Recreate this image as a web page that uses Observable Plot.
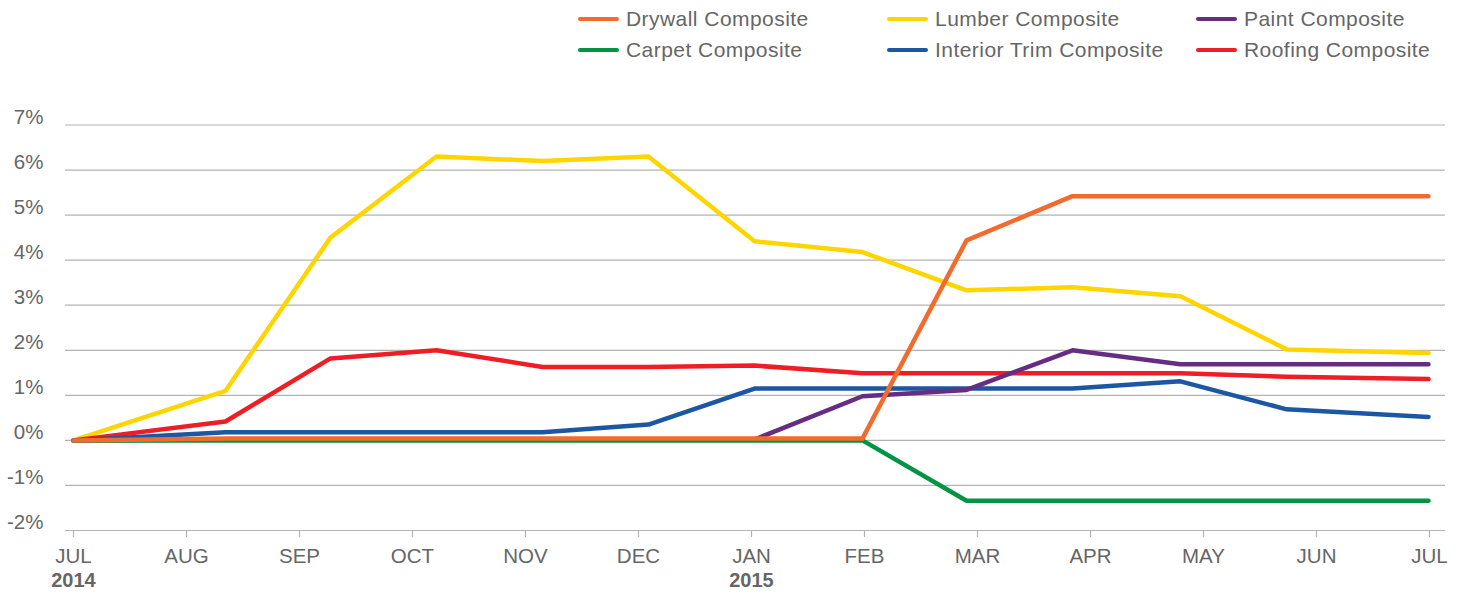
<!DOCTYPE html>
<html>
<head>
<meta charset="utf-8">
<script src="https://cdn.jsdelivr.net/npm/d3@7"></script>
<script src="https://cdn.jsdelivr.net/npm/@observablehq/plot@0.6"></script>
<style>
  html, body { margin: 0; padding: 0; background: #fff; }
  body { width: 1465px; height: 592px; overflow: hidden; font-family: "Liberation Sans", Arial, sans-serif; }
  #legend { position: relative; height: 70px; width: 1465px; }
  .item { position: absolute; display: flex; align-items: center; font-size: 21px; color: #666; white-space: nowrap; line-height: 24px; letter-spacing: 0.45px; }
  .sw { width: 41px; height: 4px; border-radius: 2px; margin-right: 7px; }
  #chart svg { display: block; overflow: visible; }
</style>
</head>
<body>
<div id="legend"></div>
<div id="chart"></div>
<script>
// Tick labels
const monthLabels = ["JUL","AUG","SEP","OCT","NOV","DEC","JAN","FEB","MAR","APR","MAY","JUN","JUL"];
const yearLabels = [{m: 0, label: "2014"}, {m: 6, label: "2015"}];
const yTicks = [-2, -1, 0, 1, 2, 3, 4, 5, 6, 7];

// Observation positions (in month units from JUL 2014)
const obs = [0, 1.345, 2.274, 3.212, 4.150, 5.088, 6.027, 6.982, 7.903, 8.841, 9.796, 10.735, 11.991];

// Series values (%)
const lumber   = [0, 1.1, 4.5, 6.3, 6.2, 6.3, 4.42, 4.18, 3.33, 3.4, 3.2, 2.02, 1.94];
const roofing  = [0, 0.42, 1.82, 2.0, 1.63, 1.63, 1.66, 1.49, 1.49, 1.49, 1.49, 1.41, 1.36];
const interior = [0, 0.18, 0.18, 0.18, 0.18, 0.35, 1.15, 1.15, 1.15, 1.15, 1.31, 0.69, 0.52];
const paint    = [0, 0.02, 0.02, 0.02, 0.02, 0.02, 0.02, 0.98, 1.12, 2.0, 1.69, 1.69, 1.69];
const carpet   = [0, 0, 0, 0, 0, 0, 0, 0, -1.34, -1.34, -1.34, -1.34, -1.34];
const drywall  = [0, 0.04, 0.04, 0.04, 0.04, 0.04, 0.04, 0.04, 4.44, 5.42, 5.42, 5.42, 5.42];

const seriesNames  = ["Lumber Composite", "Roofing Composite", "Interior Trim Composite", "Paint Composite", "Carpet Composite", "Drywall Composite"];
const seriesValues = [lumber, roofing, interior, paint, carpet, drywall];
const seriesColors = ["#FFD500", "#EE1D26", "#1B57A2", "#662D83", "#009444", "#F26B2E"];

// Legend order (as in the reference)
const legendOrder = ["Drywall Composite", "Lumber Composite", "Paint Composite", "Carpet Composite", "Interior Trim Composite", "Roofing Composite"];
const colorOf = Object.fromEntries(seriesNames.map((n, i) => [n, seriesColors[i]]));

const legend = document.getElementById("legend");
const colX = [578, 887, 1196], rowY = [19, 50];
legendOrder.forEach((name, i) => {
  const d = document.createElement("div");
  d.className = "item";
  d.style.left = colX[i % 3] + "px";
  d.style.top = (rowY[Math.floor(i / 3)] - 12) + "px";
  d.innerHTML = `<span class="sw" style="background:${colorOf[name]}"></span><span>${name}</span>`;
  legend.appendChild(d);
});

const data = [];
seriesNames.forEach((name, si) => {
  seriesValues[si].forEach((v, i) => data.push({series: name, m: obs[i], v}));
});

const font = "'Liberation Sans', Arial, sans-serif";
const chart = Plot.plot({
  width: 1465,
  height: 522,
  marginLeft: 65,
  marginRight: 20,
  marginTop: 54.5,
  marginBottom: 62,
  style: {fontFamily: font, fontSize: "20px", color: "#666", background: "#fff"},
  x: {type: "linear", domain: [0, 12], range: [73, 1429], axis: null},
  y: {type: "linear", domain: [-2, 7], axis: null},
  color: {domain: seriesNames, range: seriesColors},
  marks: [
    Plot.ruleY(yTicks, {stroke: "#b3b3b3", strokeWidth: 1.2}),
    Plot.ruleX(d3.range(13), {y1: -2, y2: -2, insetBottom: -7, stroke: "#b3b3b3", strokeWidth: 1.2}),
    Plot.text(yTicks, {x: 0, y: d => d, text: d => `${d}%`, textAnchor: "end", dx: -30, dy: -8, fill: "#666", fontSize: 20.5, letterSpacing: "0.3px"}),
    Plot.text(monthLabels.map((l, i) => ({l, i})), {x: "i", y: () => -2, text: "l", dy: 26, fill: "#666", fontSize: 20.5, letterSpacing: "0.3px", textAnchor: "middle"}),
    Plot.text(yearLabels, {x: "m", y: () => -2, text: "label", dy: 50, fill: "#666", fontSize: 20, fontWeight: "bold", textAnchor: "middle"}),
    Plot.line(data, {x: "m", y: "v", z: "series", stroke: "series", strokeWidth: 4.5, strokeLinejoin: "round", strokeLinecap: "round"})
  ]
});
document.getElementById("chart").appendChild(chart);
</script>
</body>
</html>
